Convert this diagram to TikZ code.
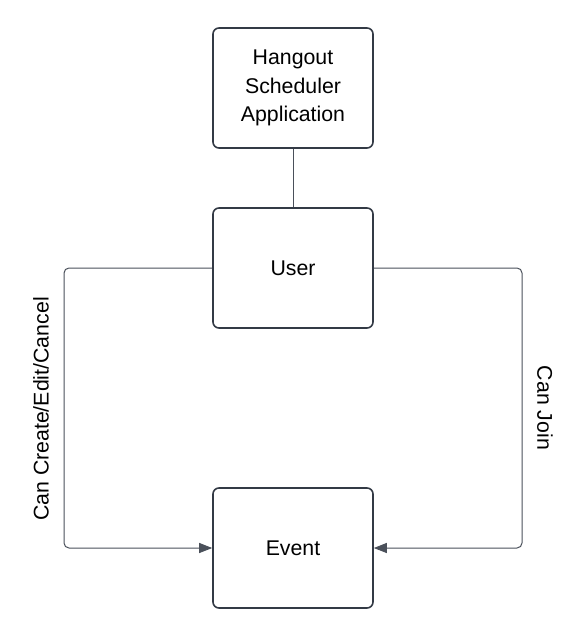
\documentclass[tikz,border=0pt]{standalone}
\usepackage{fontspec}
\setmainfont{Liberation Sans}
\usetikzlibrary{arrows.meta}
\definecolor{boxline}{HTML}{333A45}
\definecolor{conn}{HTML}{4A505A}
\begin{document}
\begin{tikzpicture}[x=1pt,y=-1pt,
  box/.style={draw=boxline,line width=1.6pt,rounded corners=6pt,minimum width=160pt,minimum height=120pt,
    align=center,font=\fontsize{21.3}{28.5}\selectfont,inner sep=0pt},
  conline/.style={draw=conn,line width=1pt,rounded corners=5pt},
  arr/.style={-{Triangle[length=13pt,width=10pt]}},
  lbl/.style={font=\fontsize{21.3}{24}\selectfont}]
\useasboundingbox (0,0) rectangle (580,636);
\node[box] (app) at (293,88) {Hangout\\Scheduler\\Application};
\node[box] (user) at (293,268) {User};
\node[box] (event) at (293,548) {Event};
\draw[conline] (app.south) -- (user.north);
\coordinate (l1) at (64,268);
\coordinate (l2) at (64,548);
\coordinate (r1) at (522,268);
\coordinate (r2) at (522,548);
\draw[conline,arr] (user.west) -- (l1) -- (l2) -- (event.west);
\draw[conline,arr] (user.east) -- (r1) -- (r2) -- (event.east);
\node[lbl,rotate=90] (lcc) at (41,409) {Can Create/Edit/Cancel};
\node[lbl,rotate=-90] (lcj) at (545,408) {Can Join};
\end{tikzpicture}
\end{document}
